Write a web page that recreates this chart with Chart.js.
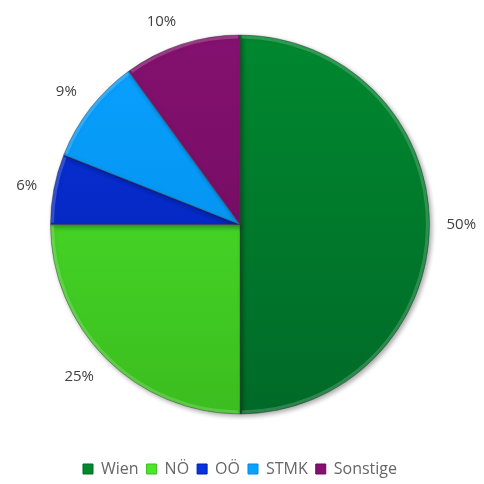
<!DOCTYPE html>
<html>
<head>
<meta charset="utf-8">
<script src="https://cdn.jsdelivr.net/npm/chart.js@4/dist/chart.umd.min.js"></script>
<style>
  html, body { margin: 0; padding: 0; background: #fff; }
  #wrap { width: 484px; height: 484px; }
</style>
</head>
<body>
<div id="wrap"><canvas id="pieChart" width="484" height="484"></canvas></div>
<script>
const regions = ['Wien', 'NÖ', 'OÖ', 'STMK', 'Sonstige'];
const shares = [50, 25, 6, 9, 10];
const shareLabels = ['50%', '25%', '6%', '9%', '10%'];

// top / bottom shade of each slice
const topColors = ['#00882f', '#4de62b', '#0a33e0', '#0aa2ff', '#84116f'];
const bottomColors = ['#006a28', '#3bbd1f', '#001fa8', '#0088e6', '#6a0a5c'];

const textColor = '#404040';
const fontFamily = "'Open Sans', 'Liberation Sans', sans-serif";

function sliceFill(context) {
    const chart = context.chart;
    const area = chart.chartArea;
    const i = context.dataIndex;
    if (!area) return topColors[i];
    const g = chart.ctx.createLinearGradient(0, area.top, 0, area.bottom);
    g.addColorStop(0, topColors[i]);
    g.addColorStop(1, bottomColors[i]);
    return g;
}

// soft drop shadow under the pie
const pieShadow = {
    id: 'pieShadow',
    beforeDatasetDraw(chart) {
        const ctx = chart.ctx;
        ctx.save();
        ctx.shadowColor = 'rgba(0,0,0,0.35)';
        ctx.shadowBlur = 5;
        ctx.shadowOffsetX = 2;
        ctx.shadowOffsetY = 2;
    },
    afterDatasetDraw(chart) {
        chart.ctx.restore();
    }
};

// light bevel along the rim of each slice
const rimHighlight = {
    id: 'rimHighlight',
    afterDatasetsDraw(chart) {
        const ctx = chart.ctx;
        const meta = chart.getDatasetMeta(0);
        ctx.save();
        meta.data.forEach(arc => {
            ctx.beginPath();
            ctx.arc(arc.x, arc.y, arc.outerRadius - 2, arc.startAngle + 0.01, arc.endAngle - 0.01);
            ctx.strokeStyle = 'rgba(255,255,255,0.18)';
            ctx.lineWidth = 3;
            ctx.stroke();
        });
        ctx.restore();
    }
};

// percentage labels outside each slice: the label box sits just past the rim,
// with the side / corner facing the pie touching an anchor on the mid angle
const outsideLabels = {
    id: 'outsideLabels',
    afterDraw(chart) {
        const ctx = chart.ctx;
        const meta = chart.getDatasetMeta(0);
        const halfH = 6;
        ctx.save();
        ctx.font = '15px ' + fontFamily;
        ctx.fillStyle = textColor;
        ctx.textAlign = 'center';
        ctx.textBaseline = 'middle';
        meta.data.forEach((arc, i) => {
            const mid = (arc.startAngle + arc.endAngle) / 2;
            const c = Math.cos(mid), s = Math.sin(mid);
            const r = arc.outerRadius + 17;
            const halfW = ctx.measureText(shareLabels[i]).width / 2;
            let x = arc.x + c * r;
            let y = arc.y + s * r;
            if (Math.abs(c) > 0.25) x += Math.sign(c) * halfW;
            if (Math.abs(s) > 0.25) y += Math.sign(s) * halfH;
            ctx.fillText(shareLabels[i], x, y);
        });
        ctx.restore();
    }
};

const ctx = document.getElementById('pieChart').getContext('2d');
const pieChart = new Chart(ctx, {
    type: 'pie',
    data: {
        labels: regions,
        datasets: [{
            data: shares,
            backgroundColor: sliceFill,
            borderColor: 'rgba(70,70,70,0.45)',
            borderWidth: 1
        }]
    },
    options: {
        responsive: false,
        animation: false,
        layout: {
            padding: { top: 33, left: 50, right: 54, bottom: -3 }
        },
        plugins: {
            tooltip: { enabled: false },
            legend: {
                position: 'bottom',
                // empty title just adds room above the legend row
                title: {
                    display: true,
                    text: ' ',
                    font: { size: 10 },
                    padding: { top: 12, bottom: 13 }
                },
                labels: {
                    boxWidth: 10,
                    boxHeight: 10,
                    padding: 8,
                    color: textColor,
                    font: { family: fontFamily, size: 16 },
                    generateLabels(chart) {
                        return regions.map((name, i) => ({
                            text: name,
                            fillStyle: topColors[i],
                            strokeStyle: bottomColors[i],
                            lineWidth: 1,
                            index: i
                        }));
                    }
                }
            }
        }
    },
    plugins: [pieShadow, rimHighlight, outsideLabels]
});
</script>
</body>
</html>
